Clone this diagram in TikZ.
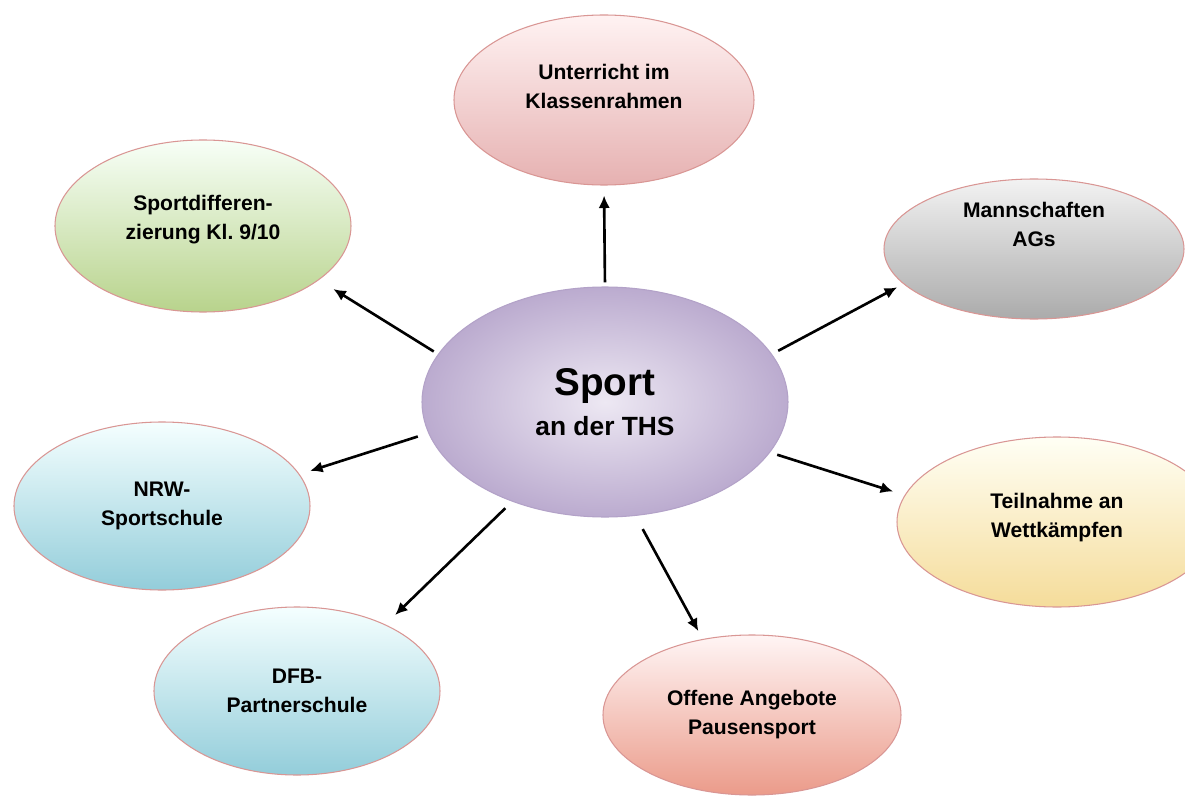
\documentclass[tikz,border=0pt]{standalone}
\usepackage{fontspec}
\setmainfont{Liberation Sans}
\usetikzlibrary{shapes.geometric,arrows.meta}

\definecolor{rimred}{HTML}{D99694}
\definecolor{rimlilac}{HTML}{B3A2C8}
\definecolor{lilaclight}{HTML}{EDE8F3}
\definecolor{lilacdark}{HTML}{BBABCF}

\tikzset{
  bubble/.style={ellipse, draw=rimred, line width=0.6pt, inner sep=0pt,
    align=center, font=\fontsize{12}{16.5}\selectfont\bfseries},
  hub/.style={ellipse, draw=rimlilac, line width=0.6pt, inner sep=0pt,
    align=center, inner color=lilaclight, outer color=lilacdark,
    minimum width=7.32cm, minimum height=4.6cm},
  spoke/.style={-{Latex[length=2.5mm,width=2.3mm]}, line width=1.5pt, black}
}

\begin{document}
\begin{tikzpicture}
    \useasboundingbox [fill=white] (-12.1,8.04) rectangle (11.6,-7.92);

    \node [hub] (sport) at (0,0)
        {{\fontsize{22}{24}\selectfont\bfseries Sport}\\[6pt]
         {\fontsize{15}{17}\selectfont\bfseries an der THS}};

    \node [bubble] (klasse) at (-0.02,6.04)  [minimum width=6cm,    minimum height=3.4cm]  [text depth=16pt] [top color=red!5,    bottom color={rgb,255:red,230;green,177;blue,177}] {Unterricht im\\Klassenrahmen};
    \node [bubble] (mannsch) at (8.58,3.06)  [minimum width=6cm,    minimum height=2.8cm]  [text depth=28pt] [top color=black!5,  bottom color=black!33]                             {Mannschaften\\AGs};
    \node [bubble] (wettk) at (9.04,-2.4)    [minimum width=6.4cm,  minimum height=3.4cm]  [text depth=8pt]  [top color=yellow!4, bottom color={rgb,255:red,245;green,220;blue,154}] {Teilnahme an\\Wettkämpfen};
    \node [bubble] (pause) at (2.94,-6.26)   [minimum width=5.96cm, minimum height=3.2cm]  [top color=red!4,    bottom color={rgb,255:red,235;green,155;blue,138}] {Offene Angebote\\Pausensport};
    \node [bubble] (dfb) at (-6.16,-5.78)    [minimum width=5.72cm, minimum height=3.36cm] [top color=cyan!4,   bottom color={rgb,255:red,147;green,205;blue,218}] {DFB-\\Partnerschule};
    \node [bubble] (nrw) at (-8.86,-2.08)    [minimum width=5.92cm, minimum height=3.36cm] [top color=cyan!4,   bottom color={rgb,255:red,147;green,205;blue,218}] {NRW-\\Sportschule};
    \node [bubble] (diff) at (-8.04,3.52)    [minimum width=5.92cm, minimum height=3.44cm] [text depth=10pt] [top color=green!3,  bottom color={rgb,255:red,184;green,211;blue,140}] {Sportdifferen-\\zierung Kl.\ 9/10};

    \draw [spoke, shorten <=0.08cm, shorten >=0.2cm]  (sport.north) to (klasse.south);
    \draw [spoke, shorten <=0.14cm, shorten >=0.14cm] (sport.16)    to (mannsch.195);
    \draw [spoke, shorten <=0.15cm, shorten >=0.24cm] (sport.-17)   to (wettk.170);
    \draw [spoke, shorten <=0.3cm,  shorten >=0.18cm] (sport.-75)   to (pause.123);
    \draw [spoke, shorten <=0.19cm, shorten >=0.27cm] (sport.227)   to (dfb.37);
    \draw [spoke, shorten <=0.22cm, shorten >=0.22cm] (sport.190)   to (nrw.13);
    \draw [spoke, shorten <=0.1cm,  shorten >=0.34cm] (sport.164)   to (diff.-25);

\end{tikzpicture}
\end{document}
